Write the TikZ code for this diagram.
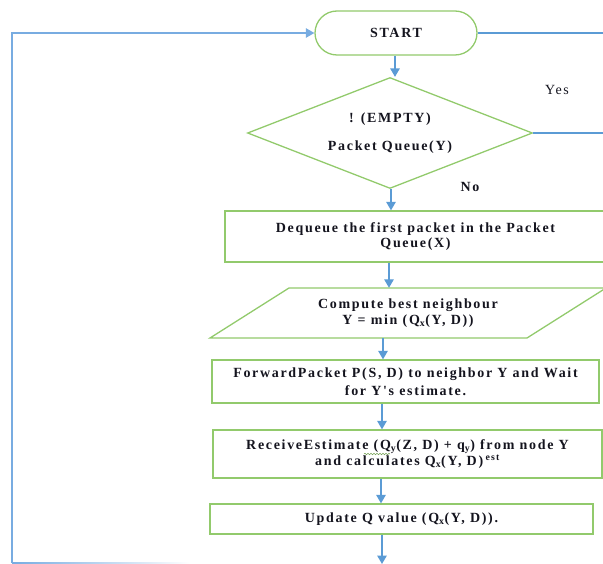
\documentclass[tikz,border=0pt]{standalone}
\usepackage{fontspec}
\setmainfont{Liberation Serif}
\newfontfamily\chartfont[LetterSpace=12]{Liberation Serif}
\usetikzlibrary{arrows.meta,shapes.geometric,decorations.pathmorphing}
\definecolor{boxgreen}{RGB}{146,202,108}
\definecolor{flowblue}{RGB}{91,155,213}
\definecolor{loopblue}{RGB}{120,172,225}
\definecolor{inkblack}{RGB}{20,20,30}

\begin{document}
\begin{tikzpicture}[x=1pt,y=-1pt,
  font=\chartfont\bfseries\fontsize{14}{15}\selectfont,
  text=inkblack,
  box/.style={draw=boxgreen,line width=1.3pt,align=center,inner sep=0pt},
  procbox/.style={box,rectangle},
  tip/.style={-{Triangle[length=8.5pt,width=9.5pt]}},
  arr/.style={draw=flowblue,line width=1.4pt,tip},
  flowline/.style={draw=flowblue,line width=1.2pt},
  loopline/.style={draw=loopblue,line width=1.2pt},
  plain/.style={font=\chartfont\fontsize{14}{15}\selectfont}]

\useasboundingbox (0,0) rectangle (603,564);
\clip (0,0) rectangle (603,564);

% terminal and decision
\node[box, rounded corners=22pt, minimum width=162pt, minimum height=44pt]
  (start) at (396,33) {START};
\node[box, diamond, shape aspect=2.57, minimum width=285pt, minimum height=111pt]
  (dec) at (390,133) {! (EMPTY)\\[13pt]Packet Queue(Y)};
\node[plain] (yes) at (557,90) {Yes};
\node (no) at (470,187) {No};

% processing steps
\node[procbox, minimum width=381pt, minimum height=51pt]
  (dq) at (415.5,236.5) {Dequeue the first packet in the Packet\\Queue(X)};
\draw[draw=boxgreen, line width=1.3pt]
  (289,288) -- (606,288) -- (527,338) -- (210,338) -- cycle;
\node[align=center, minimum height=50pt, inner sep=0pt, font=\chartfont\bfseries\fontsize{14}{16}\selectfont]
  (para) at (408,313) {Compute best neighbour\\Y = min (Q\textsubscript{x}(Y, D))};
\node[procbox, minimum width=387pt, minimum height=43pt, font=\chartfont\bfseries\fontsize{14}{17.5}\selectfont]
  (fw) at (405.5,381.5) {ForwardPacket P(S, D) to neighbor Y and Wait\\for Y's estimate.};
\node[procbox, minimum width=389pt, minimum height=48pt]
  (rc) at (407.5,454) {ReceiveEstimate (Q\textsubscript{y}(Z, D) + q\textsubscript{y}) from node Y\\and calculates Q\textsubscript{x}(Y, D)\,\textsuperscript{est}};
\node[procbox, minimum width=383pt, minimum height=30pt]
  (up) at (401.5,519) {Update Q value (Q\textsubscript{x}(Y, D)).};

% spell-check squiggle under the estimate term
\draw[boxgreen!80!black, line width=0.5pt, decorate,
  decoration={snake, amplitude=0.8pt, segment length=3pt}]
  (364,454) -- (390,454);

% free ends
\coordinate (re1) at (603,33);
\coordinate (re2) at (603,133);
\coordinate (dn) at (382,564);
\coordinate (lbr) at (190,563);
\coordinate (lb) at (12,563);
\coordinate (lt) at (12,33);

% connectors
\draw[arr] ([xshift=-1pt]start.south) -- ([xshift=-1pt]start.south |- dec.north);
\draw[arr] ([xshift=1pt]dec.south) -- ([xshift=1pt]dec.south |- dq.north);
\draw[arr] ([xshift=-26.5pt]dq.south) -- ([xshift=-26.5pt]dq.south |- para.north);
\draw[arr] ([xshift=-25pt]para.south) -- ([xshift=-25pt]para.south |- fw.north);
\draw[arr] ([xshift=-23.5pt]fw.south) -- ([xshift=-23.5pt]fw.south |- rc.north);
\draw[arr] ([xshift=-26.5pt]rc.south) -- ([xshift=-26.5pt]rc.south |- up.north);
\draw[arr] ([xshift=-19.5pt]up.south) -- (dn);

\draw[flowline] (start.east) -- (re1);
\draw[flowline] (dec.east) -- (re2);

% return loop; its bottom run fades out to the right
\shade[left color=loopblue, right color=white]
  ([yshift=-0.6pt]lb) rectangle ([yshift=0.6pt]lbr);
\draw[loopline, tip] (lb) -- (lt) -- (start.west);
\end{tikzpicture}
\end{document}
